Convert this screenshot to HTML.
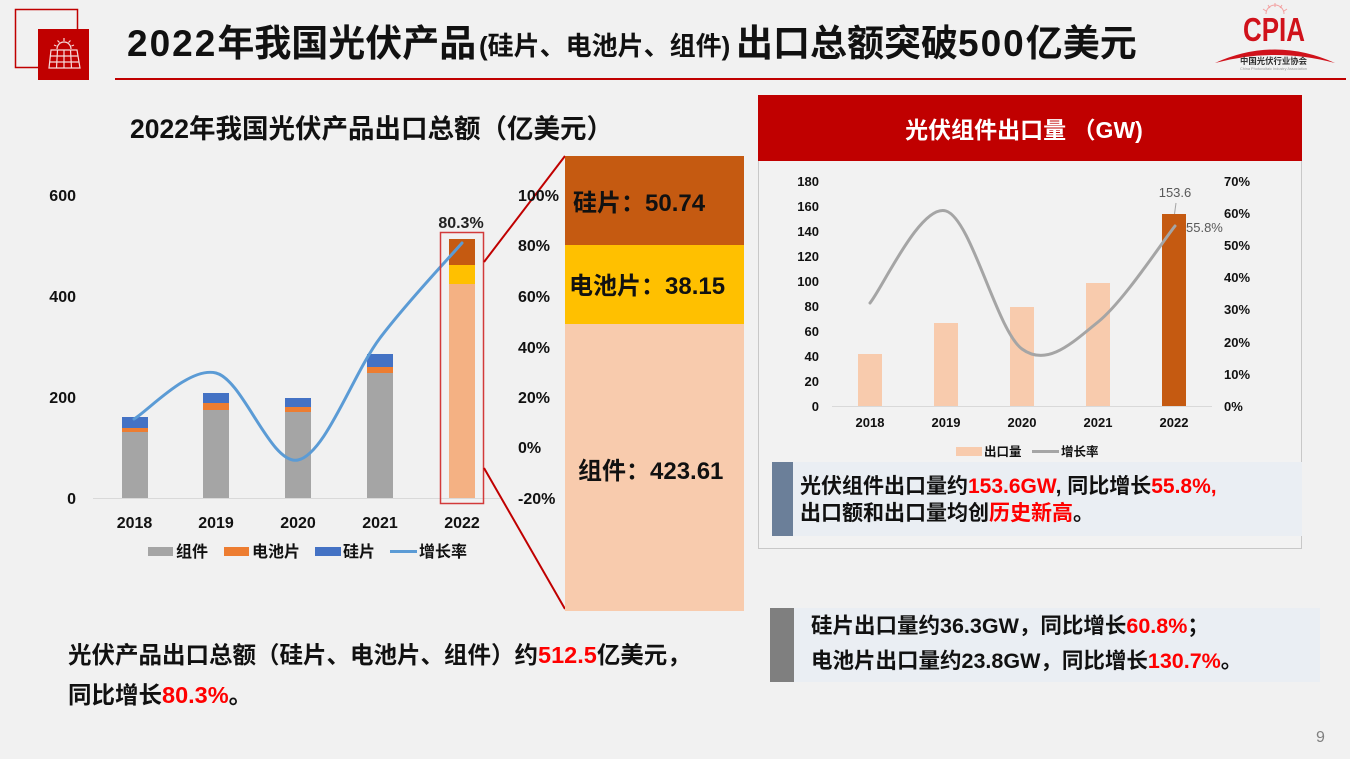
<!DOCTYPE html>
<html><head><meta charset="utf-8">
<style>
html,body{margin:0;padding:0;background:#f1f1f1;}
svg{display:block;}
text{font-family:"Liberation Sans","Noto Sans CJK SC",sans-serif;}
</style></head>
<body>
<svg width="1350" height="759" viewBox="0 0 1350 759" xmlns="http://www.w3.org/2000/svg">
<rect x="0" y="0" width="1350" height="759" fill="#f1f1f1"/>

<!-- header icon -->
<rect x="15.5" y="9.5" width="62" height="58" fill="none" stroke="#c00000" stroke-width="1.5"/>
<rect x="38" y="29" width="51" height="51" fill="#c00000"/>
<g stroke="#f6dada" stroke-width="1.2" fill="none">
  <path d="M57,49 A7,7 0 0 1 71,49"/>
  <path d="M64,38 L64,41 M57.5,40.5 L59.5,42.5 M70.5,40.5 L68.5,42.5 M54,45 L56.5,46 M74,45 L71.5,46"/>
  <path d="M51,50 L77,50 L80,68 L49,68 Z"/>
  <path d="M50.3,56 L78,56 M49.6,62 L79,62"/>
  <path d="M57.5,50 L56.5,68 M64,50 L64,68 M70.5,50 L71.5,68"/>
</g>

<!-- title -->
<text x="127" y="56" font-size="37" font-weight="bold" fill="#111"><tspan letter-spacing="2">2022</tspan>年我国光伏产品</text>
<text x="479" y="55" font-size="26" font-weight="bold" fill="#111">(硅片、电池片、组件)</text>
<text x="736" y="56" font-size="37" font-weight="bold" fill="#111">出口总额突破<tspan letter-spacing="2">500</tspan>亿美元</text>
<line x1="115" y1="79" x2="1346" y2="79" stroke="#c00000" stroke-width="2"/>

<!-- CPIA logo -->
<g stroke="#f3a0a0" stroke-width="1" fill="none">
  <path d="M1266,14 A9,9 0 0 1 1284,14"/>
  <path d="M1275,3 L1275,7 M1268,5 L1270,8 M1282,5 L1280,8 M1263,9 L1266,11 M1287,9 L1284,11"/>
</g>
<text x="1243" y="41" font-size="33" font-weight="bold" fill="#d0121b" textLength="62" lengthAdjust="spacingAndGlyphs">CPIA</text>
<path d="M1215,63 Q1275,36 1335,63 Q1275,47 1215,63 Z" fill="#d0121b"/>
<text x="1240" y="64" font-size="8.5" font-weight="bold" fill="#333" textLength="67" lengthAdjust="spacingAndGlyphs">中国光伏行业协会</text>
<text x="1240" y="70" font-size="4" fill="#999" textLength="67" lengthAdjust="spacingAndGlyphs">China Photovoltaic Industry Association</text>

<!-- subtitle -->
<text x="130" y="138" font-size="26.5" font-weight="bold" fill="#111">2022年我国光伏产品出口总额（亿美元）</text>

<!-- left chart -->
<g font-size="16" font-weight="bold" fill="#111" text-anchor="end">
  <text x="76" y="201">600</text>
  <text x="76" y="302">400</text>
  <text x="76" y="403">200</text>
  <text x="76" y="504">0</text>
</g>
<line x1="93" y1="498.5" x2="500" y2="498.5" stroke="#d9d9d9" stroke-width="1"/>
<!-- bars -->
<rect x="122" y="432" width="26" height="66" fill="#a5a5a5"/>
<rect x="122" y="428" width="26" height="4" fill="#ed7d31"/>
<rect x="122" y="417" width="26" height="11" fill="#4472c4"/>

<rect x="203" y="410" width="26" height="88" fill="#a5a5a5"/>
<rect x="203" y="403" width="26" height="7" fill="#ed7d31"/>
<rect x="203" y="393" width="26" height="10" fill="#4472c4"/>

<rect x="285" y="412" width="26" height="86" fill="#a5a5a5"/>
<rect x="285" y="407" width="26" height="5" fill="#ed7d31"/>
<rect x="285" y="398" width="26" height="9" fill="#4472c4"/>

<rect x="367" y="373" width="26" height="125" fill="#a5a5a5"/>
<rect x="367" y="367" width="26" height="6" fill="#ed7d31"/>
<rect x="367" y="354" width="26" height="13" fill="#4472c4"/>

<rect x="449" y="284" width="26" height="214" fill="#f4b183"/>
<rect x="449" y="265" width="26" height="19" fill="#ffc000"/>
<rect x="449" y="239" width="26" height="26" fill="#c55a11"/>

<path d="M134,419 C147.7,411.3 188.7,366.2 216,373 C243.3,379.8 270.7,465.8 298,460 C325.3,454.2 352.7,374.2 380,338 C407.3,301.8 448.3,258.8 462,243" fill="none" stroke="#5b9bd5" stroke-width="3" stroke-linecap="round"/>

<rect x="440.5" y="232.5" width="43" height="271" fill="none" stroke="#d23a3a" stroke-width="1.5"/>
<text x="461" y="228" font-size="16" font-weight="bold" fill="#222" text-anchor="middle">80.3%</text>

<g font-size="16" font-weight="bold" fill="#111" text-anchor="middle">
  <text x="134.5" y="528">2018</text>
  <text x="216" y="528">2019</text>
  <text x="298" y="528">2020</text>
  <text x="380" y="528">2021</text>
  <text x="462" y="528">2022</text>
</g>
<!-- legend -->
<rect x="148" y="547" width="25" height="9" fill="#a5a5a5"/>
<text x="176" y="557" font-size="16" font-weight="bold" fill="#111">组件</text>
<rect x="224" y="547" width="25" height="9" fill="#ed7d31"/>
<text x="252" y="557" font-size="16" font-weight="bold" fill="#111">电池片</text>
<rect x="315" y="547" width="26" height="9" fill="#4472c4"/>
<text x="343" y="557" font-size="16" font-weight="bold" fill="#111">硅片</text>
<line x1="390" y1="551.5" x2="417" y2="551.5" stroke="#5b9bd5" stroke-width="3"/>
<text x="419" y="557" font-size="16" font-weight="bold" fill="#111">增长率</text>

<!-- connector lines -->
<line x1="484" y1="262" x2="565" y2="156" stroke="#c00000" stroke-width="2"/>
<line x1="484" y1="468" x2="565" y2="609" stroke="#c00000" stroke-width="2"/>

<!-- middle stacked bar -->
<g font-size="16" font-weight="bold" fill="#111">
  <text x="518" y="201">100%</text>
  <text x="518" y="251">80%</text>
  <text x="518" y="302">60%</text>
  <text x="518" y="353">40%</text>
  <text x="518" y="403">20%</text>
  <text x="518" y="453">0%</text>
  <text x="518" y="504">-20%</text>
</g>
<rect x="565" y="156" width="179" height="89" fill="#c55a11"/>
<rect x="565" y="245" width="179" height="79" fill="#ffc000"/>
<rect x="565" y="324" width="179" height="287" fill="#f8cbad"/>
<g font-size="24" font-weight="bold" fill="#111">
  <text x="573" y="211">硅片：50.74</text>
  <text x="569" y="294">电池片：38.15</text>
  <text x="578" y="479">组件：423.61</text>
</g>

<!-- right panel -->
<rect x="758.5" y="95.5" width="543" height="453" fill="#f2f2f2" stroke="#c8c8c8" stroke-width="1"/>
<rect x="758" y="95" width="544" height="66" fill="#c00000"/>
<text x="1024" y="138" font-size="23" font-weight="bold" fill="#fff" text-anchor="middle">光伏组件出口量 （GW)</text>

<g font-size="13" font-weight="bold" fill="#111" text-anchor="end">
  <text x="819" y="186">180</text>
  <text x="819" y="211">160</text>
  <text x="819" y="236">140</text>
  <text x="819" y="261">120</text>
  <text x="819" y="286">100</text>
  <text x="819" y="311">80</text>
  <text x="819" y="336">60</text>
  <text x="819" y="361">40</text>
  <text x="819" y="386">20</text>
  <text x="819" y="411">0</text>
</g>
<g font-size="13" font-weight="bold" fill="#111">
  <text x="1224" y="186">70%</text>
  <text x="1224" y="218">60%</text>
  <text x="1224" y="250">50%</text>
  <text x="1224" y="282">40%</text>
  <text x="1224" y="314">30%</text>
  <text x="1224" y="347">20%</text>
  <text x="1224" y="379">10%</text>
  <text x="1224" y="411">0%</text>
</g>
<line x1="832" y1="406.5" x2="1212" y2="406.5" stroke="#d9d9d9" stroke-width="1"/>
<rect x="858" y="354" width="24" height="52" fill="#f8cbad"/>
<rect x="934" y="323" width="24" height="83" fill="#f8cbad"/>
<rect x="1010" y="307" width="24" height="99" fill="#f8cbad"/>
<rect x="1086" y="283" width="24" height="123" fill="#f8cbad"/>
<rect x="1162" y="214" width="24" height="192" fill="#c55a11"/>
<path d="M870,303 C882.7,287.7 920.7,203.3 946,211 C971.3,218.7 996.7,330.5 1022,349 C1047.3,367.5 1072.5,342.5 1098,322 C1123.5,301.5 1162.2,242 1175,226" fill="none" stroke="#a5a5a5" stroke-width="3" stroke-linecap="round"/>
<line x1="1176" y1="203" x2="1174.5" y2="214" stroke="#a5a5a5" stroke-width="1"/>
<text x="1175" y="197" font-size="13" fill="#595959" text-anchor="middle">153.6</text>
<text x="1186" y="232" font-size="13" fill="#595959">55.8%</text>
<g font-size="13" font-weight="bold" fill="#111" text-anchor="middle">
  <text x="870" y="427">2018</text>
  <text x="946" y="427">2019</text>
  <text x="1022" y="427">2020</text>
  <text x="1098" y="427">2021</text>
  <text x="1174" y="427">2022</text>
</g>
<rect x="956" y="447" width="26" height="9" fill="#f8cbad"/>
<text x="984" y="456" font-size="12.5" font-weight="bold" fill="#111">出口量</text>
<line x1="1032" y1="451.5" x2="1059" y2="451.5" stroke="#a5a5a5" stroke-width="3"/>
<text x="1061" y="456" font-size="12.5" font-weight="bold" fill="#111">增长率</text>

<!-- text box 1 -->
<rect x="772" y="462" width="530" height="74" fill="#eaeef3"/>
<rect x="772" y="462" width="21" height="74" fill="#6b7f99"/>
<text x="800" y="493" font-size="21" font-weight="bold" fill="#111">光伏组件出口量约<tspan fill="#ff0000">153.6GW</tspan>, 同比增长<tspan fill="#ff0000">55.8%,</tspan></text>
<text x="800" y="520" font-size="21" font-weight="bold" fill="#111">出口额和出口量均创<tspan fill="#ff0000">历史新高</tspan>。</text>

<!-- text box 2 -->
<rect x="794" y="608" width="526" height="74" fill="#eaeef3"/>
<rect x="770" y="608" width="24" height="74" fill="#7f7f7f"/>
<text x="811" y="633" font-size="21.5" font-weight="bold" fill="#111">硅片出口量约36.3GW，同比增长<tspan fill="#ff0000">60.8%</tspan>；</text>
<text x="811" y="668" font-size="21.5" font-weight="bold" fill="#111">电池片出口量约23.8GW，同比增长<tspan fill="#ff0000">130.7%</tspan>。</text>

<!-- bottom text -->
<text x="68" y="663" font-size="23.5" font-weight="bold" fill="#111">光伏产品出口总额（硅片、电池片、组件）约<tspan fill="#ff0000">512.5</tspan>亿美元，</text>
<text x="68" y="703" font-size="23.5" font-weight="bold" fill="#111">同比增长<tspan fill="#ff0000">80.3%</tspan>。</text>

<!-- page number -->
<text x="1316" y="742" font-size="16" fill="#808080">9</text>
</svg>
</body></html>
